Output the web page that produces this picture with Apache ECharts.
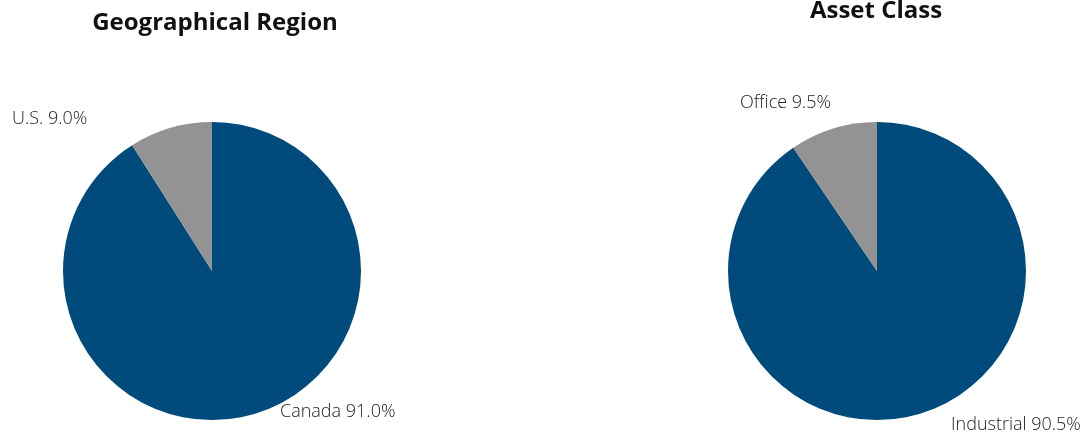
<!DOCTYPE html>
<html>
<head>
<meta charset="utf-8">
<script src="https://cdn.jsdelivr.net/npm/echarts@6/dist/echarts.min.js"></script>
<style>
  html, body { margin: 0; padding: 0; background: #fff; }
  #chart { width: 1083px; height: 435px; }
</style>
</head>
<body>
<div id="chart"></div>
<script>
// data
const regionNames = ['Canada', 'U.S.'];
const regionValues = [91.0, 9.0];
const assetNames = ['Industrial', 'Office'];
const assetValues = [90.5, 9.5];
const colors = ['#004a7c', '#939393'];

const chart = echarts.init(document.getElementById('chart'));

// where the labels sit (left edge, middle)
const regionLabelPos = [[280, 412], [12, 119]];
const assetLabelPos = [[951, 425], [740, 103]];

function pie(names, values, center, labelPos) {
  return {
    type: 'pie',
    center: center,
    radius: 149,
    startAngle: 90,
    clockwise: true,
    silent: true,
    data: names.map((n, i) => ({ name: n, value: values[i], itemStyle: { color: colors[i] } })),
    label: {
      show: true,
      formatter: p => p.name + ' ' + p.value.toFixed(1) + '%',
      fontFamily: 'Open Sans',
      fontWeight: 300,
      fontSize: 18,
      color: '#222',
      overflow: 'none',
      width: 200
    },
    labelLine: { show: false },
    labelLayout: p => ({
      x: labelPos[p.dataIndex][0],
      y: labelPos[p.dataIndex][1],
      align: 'left',
      verticalAlign: 'middle'
    })
  }
}

const titleStyle = { fontFamily: 'Open Sans', fontWeight: 'bold', fontSize: 24, color: '#111' };

chart.setOption({
  animation: false,
  title: [
    { text: 'Geographical Region', left: 210, top: 6, textAlign: 'center', textStyle: titleStyle },
    { text: 'Asset Class', left: 871, top: -6, textAlign: 'center', textStyle: titleStyle }
  ],
  series: [
    pie(regionNames, regionValues, [212, 271], regionLabelPos),
    pie(assetNames, assetValues, [877, 271], assetLabelPos)
  ]
});
</script>
</body>
</html>
